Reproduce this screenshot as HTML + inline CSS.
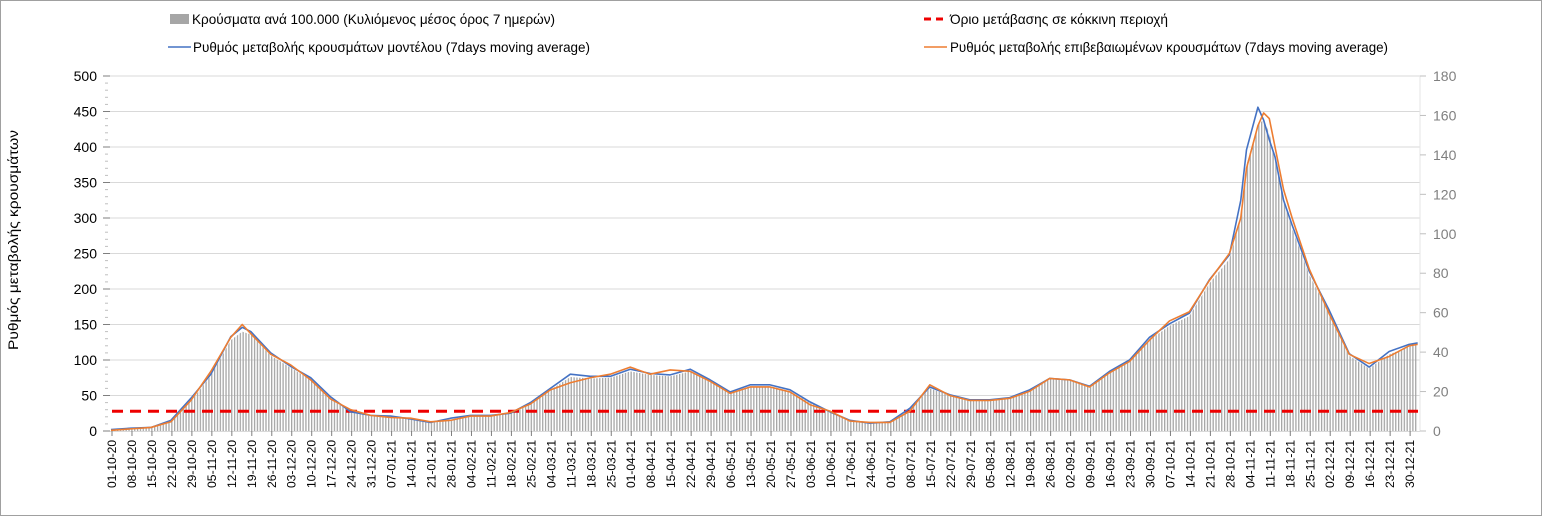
<!DOCTYPE html>
<html><head><meta charset="utf-8"><style>
html,body{margin:0;padding:0;background:#fff;}
svg{display:block;font-family:"Liberation Sans","DejaVu Sans",sans-serif;}
</style></head><body>
<svg id="chart" width="1542" height="516" viewBox="0 0 1542 516">
<defs>
<pattern id="barpat" width="2.853" height="10" patternUnits="userSpaceOnUse">
<rect x="0" y="0" width="1.3" height="10" fill="#a6a6a6"/>
</pattern>
</defs>
<rect x="0.5" y="0.5" width="1541" height="515" fill="#fff" stroke="#a0a0a0"/>
<g id="grid"></g>
<g id="bars"></g>
<g id="axes"></g>
<g id="lines"></g>
<text x="0" y="0" transform="translate(18,240) rotate(-90)" text-anchor="middle" font-size="14" fill="#000" textLength="220" lengthAdjust="spacingAndGlyphs">Ρυθμός μεταβολής κρουσμάτων</text>
<g>
<g><rect x="170" y="14" width="19" height="10" fill="#a6a6a6"/><text x="192" y="24" font-size="14" textLength="363" lengthAdjust="spacingAndGlyphs">Κρούσματα ανά 100.000 (Κυλιόμενος μέσος όρος 7 ημερών)</text></g>
<g><line x1="924" y1="19" x2="947" y2="19" stroke="#e00" stroke-width="3" stroke-dasharray="7,5"/><text x="950" y="24" font-size="14" textLength="218" lengthAdjust="spacingAndGlyphs">Όριο μετάβασης σε κόκκινη περιοχή</text></g>
<g><line x1="168" y1="47" x2="191" y2="47" stroke="#4472c4" stroke-width="1.5"/><text x="193" y="52" font-size="14" textLength="397" lengthAdjust="spacingAndGlyphs">Ρυθμός μεταβολής κρουσμάτων μοντέλου (7days moving average)</text></g>
<g><line x1="924" y1="47" x2="947" y2="47" stroke="#ed7d31" stroke-width="1.5"/><text x="950" y="52" font-size="14" textLength="438" lengthAdjust="spacingAndGlyphs">Ρυθμός μεταβολής επιβεβαιωμένων κρουσμάτων (7days moving average)</text></g>
</g>
</svg>
<script>
// day index from 01-10-20
const days = [0,7,14,21,28,35,42,46,49,56,63,70,77,84,91,98,105,112,119,126,133,140,147,154,161,168,175,182,189,196,203,210,217,224,231,238,245,252,259,266,273,280,287,294,301,308,315,322,329,336,343,350,357,364,371,378,385,392,396,398,402,404,406,408,411,414,420,427,434,441,448,455,458];
const blueVals = [2,4,5,15,46,80,133,146,140,110,91,75,48,27,22,21,17,12,18,22,22,25,40,60,80,77,77,87,81,79,87,72,55,65,65,58,41,27,15,11,13,32,62,51,44,44,47,58,74,72,63,84,100,132,151,166,213,248,325,396,456,438,410,386,325,290,225,170,109,90,112,122,124];
const orangeVals = [1,3,5,13,43,84,132,150,137,108,93,72,45,30,22,19,18,13,15,21,21,26,38,58,68,75,80,90,80,86,84,70,53,62,62,55,37,28,14,12,12,28,65,50,43,43,46,56,74,72,62,82,98,128,155,168,212,250,300,370,430,448,440,400,340,300,228,165,108,95,105,120,122];
const barVals = [1,3,4,13,42,78,128,140,136,106,89,72,46,26,21,20,16,11,16,21,21,24,38,58,76,74,75,84,79,77,84,70,54,62,63,56,40,26,14,10,12,30,60,50,43,43,46,56,73,71,62,82,97,128,148,162,208,242,300,375,432,438,420,385,325,285,220,166,106,88,108,119,121];
const leftTicks = [0,50,100,150,200,250,300,350,400,450,500];
const rightTicks = [0,20,40,60,80,100,120,140,160,180];
const threshold = [10];
const labelStart = new Date(2020,9,1);
const nLabels = 66;

const X0=111, PX=2.853, Y0=431, YT=76;
const xS = d => X0 + d*PX;
const yL = v => Y0 - v*(Y0-YT)/500;
const yR = v => Y0 - v*(Y0-YT)/180;
const NS="http://www.w3.org/2000/svg";
function mk(tag, attrs, parent){const e=document.createElementNS(NS,tag);for(const k in attrs)e.setAttribute(k,attrs[k]);parent.appendChild(e);return e;}
const grid=document.getElementById('grid'), axes=document.getElementById('axes'), barsG=document.getElementById('bars'), linesG=document.getElementById('lines');
const PL=110, PR=1420;

leftTicks.forEach(t=>{
  if(t>0){const g=mk('line',{x1:PL,x2:PR,y1:yL(t),y2:yL(t),stroke:'#d9d9d9','stroke-width':1},grid);
  
  }
  const tk=mk('line',{x1:103,x2:110,y1:yL(t),y2:yL(t),stroke:'#7f7f7f'},axes);
  
  
  for(let m=1;m<5&&t<500;m++){const mm=mk('line',{x1:105,x2:108,y1:yL(t+m*10),y2:yL(t+m*10),stroke:'#bfbfbf'},axes);
  
  }
  const tx=mk('text',{x:97,y:yL(t)+5,'text-anchor':'end','font-size':14,fill:'#000'},axes);
  tx.textContent=t;
  
  
});
mk('line',{x1:PR,x2:PR,y1:YT,y2:Y0,stroke:'#e6e6e6'},axes);
rightTicks.forEach(t=>{
  const tk=mk('line',{x1:PR,x2:PR+6,y1:yR(t),y2:yR(t),stroke:'#bfbfbf'},axes);
  
  
  const tx=mk('text',{x:1433,y:yR(t)+5,'font-size':14,fill:'#7f7f7f'},axes);
  tx.textContent=t;
  
  
});
const xa=mk('line',{x1:PL,x2:PR,y1:Y0+0.5,y2:Y0+0.5,stroke:'#d9d9d9'},axes);


for(let k=0;k<nLabels;k++){
  const d=new Date(labelStart.getTime()+k*7*86400000);
  const s=String(d.getDate()).padStart(2,'0')+'-'+String(d.getMonth()+1).padStart(2,'0')+'-'+String(d.getFullYear()%100);
  const x=xS(k*7)+1;
  mk('line',{x1:x,x2:x,y1:Y0,y2:Y0+5,stroke:'#7f7f7f'},axes);
  const tx=mk('text',{transform:`translate(${x+4},${Y0+9}) rotate(-90)`,'text-anchor':'end','font-size':12,fill:'#000',textLength:48,lengthAdjust:'spacingAndGlyphs'},axes);
  tx.textContent=s;
  
  
}
let bp=`M${xS(days[0])},${Y0}`;
days.forEach((d,i)=>{bp+=` L${xS(d)},${yL(barVals[i])}`;});
bp+=` L${xS(days[days.length-1])},${Y0} Z`;
const ba=mk('path',{d:bp,fill:'url(#barpat)'},barsG);


const th=mk('line',{x1:PL+2,x2:PR-2,y1:yR(threshold[0]),y2:yR(threshold[0]),stroke:'#e00',"stroke-width":3,"stroke-dasharray":"11,7"},linesG);


function line(vals,color,name){
  const p=days.map((d,i)=>(i?'L':'M')+xS(d)+','+yL(vals[i])).join(' ');
  const e=mk('path',{d:p,fill:'none',stroke:color,'stroke-width':1.6,'stroke-linejoin':'round'},linesG);
  
  
}
line(blueVals,'#4472c4','model-rate-line');
line(orangeVals,'#ed7d31','confirmed-rate-line');
</script>
</body></html>
